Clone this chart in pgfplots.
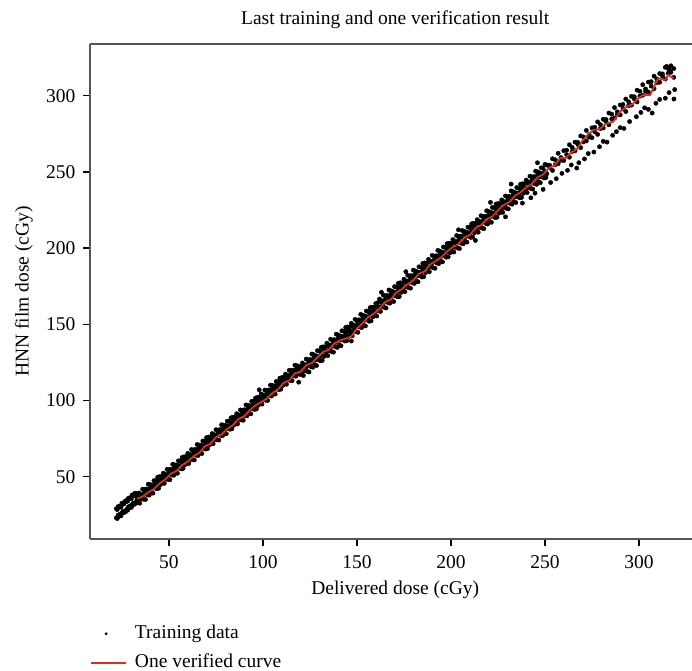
\documentclass[border=0pt]{standalone}
\usepackage{pgfplots}
\pgfplotsset{compat=1.18}
\usepackage{fontspec}
\setmainfont{Liberation Serif}
\definecolor{axgray}{RGB}{85,85,85}
\definecolor{cred}{RGB}{224,46,30}
\pgfplotsset{
  dotlegend/.style={legend image code/.code={\draw[##1, mark size=1.2bp] plot coordinates {(15bp,0bp)}; \path (0bp,0bp) (43bp,0bp);}},
  linelegend/.style={legend image code/.code={\draw[##1] (0bp,0bp) -- (35bp,0bp); \path (43bp,0bp);}},
}
\begin{document}
\begin{tikzpicture}
\begin{axis}[
  scale only axis, width=602bp, height=495bp,
  xmin=8, xmax=328.2, ymin=9.1, ymax=333.9,
  clip mode=individual,
  axis y line*=left,
  axis line style={axgray, line width=1.3bp},
  tick align=outside, tick pos=left,
  major tick length=7bp,
  every tick/.style={black, line width=1.3bp},
  xtick={50,100,...,300}, ytick={50,100,...,300},
  /pgf/number format/assume math mode=true,
  font=\fontsize{19.5bp}{23bp}\selectfont,
  ticklabel style={font=\fontsize{19.5bp}{23bp}\selectfont},
  xticklabel style={yshift=-6bp},
  yticklabel style={xshift=-4bp},
  title={Last training and one verification result},
  title style={at={(axis description cs:0.507,1)}, anchor=base, yshift=13.5bp},
  xlabel={Delivered dose (cGy)},
  xlabel style={at={(axis description cs:0.507,-0.109)}, anchor=base, yshift=-2bp},
  ylabel={HNN film dose (cGy)},
  ylabel style={at={(axis description cs:-0.11,0.5)}, anchor=center},
  legend cell align=left,
  legend style={at={(axis description cs:0,0)}, anchor=north west, yshift=-85bp,
    draw=none, fill=none, inner sep=0pt, row sep=10bp,
    nodes={inner sep=0pt, text height=14bp, text depth=5bp},
    font=\fontsize{19.5bp}{23bp}\selectfont},
]
\addplot[only marks, mark=*, mark size=2.15bp, black, mark options={draw=none, fill=black}, dotlegend]
coordinates {
(22,23.0) (22.5,22.5) (22,29.0) (22.5,28.4)
(23,24.8) (23.5,24.0) (23,30.4) (23.5,29.8)
(24,25.4) (24.5,24.3) (24,30.8) (24.5,30.1)
(25,26.2) (25.5,27.2) (25,32.6) (25.5,32.0)
(26,26.3) (26.5,27.4) (26,32.1) (26.5,33.7)
(27,27.1) (27.5,28.5) (27,33.4) (27.5,34.5)
(28,28.0) (28.5,30.3) (28,33.9) (28.5,35.9)
(29,29.5) (29.5,30.9) (29,35.3) (29.5,36.3)
(30,29.8) (30.5,31.7) (30,35.6) (30.5,38.1)
(31,32.7) (31.5,31.8) (31,37.5) (31.5,37.6)
(32,32.9) (32.5,32.6) (32,39.2) (32.5,38.9)
(33.5,32.9) (33,34.9) (33,37.1) (34.5,32.6) (34,34.9) (34,39.3)
(35.5,35.4) (35,37.6) (35,38.6) (36.5,35.2) (36,37.5) (36,41.8)
(37.5,35.0) (37,39.3) (37,41.5) (38.5,38.1) (38,38.6) (38,41.9)
(39.5,37.9) (39,41.0) (39,45.1) (40.5,39.5) (40,42.9) (40,44.8)
(41.5,39.2) (41,42.2) (41,44.5) (42.5,42.6) (42,44.4) (42,47.4)
(43.5,42.1) (43,44.0) (43,47.3) (44.5,42.4) (44,45.7) (44,49.6)
(45.5,44.8) (45,47.7) (45,50.0)
(46.5,45.9) (46,47.9) (46,50.1) (47.5,45.6) (47,47.9) (47,52.3)
(48.5,48.4) (48,50.6) (48,51.6) (49.5,48.2) (49,50.5) (49,54.8)
(50.5,48.0) (50,52.3) (50,54.5) (51.5,51.1) (51,51.6) (51,54.9)
(52.5,50.9) (52,54.0) (52,58.1) (53.5,52.5) (53,55.9) (53,57.8)
(54.5,52.2) (54,55.2) (54,57.5) (55.5,55.6) (55,57.4) (55,60.4)
(56.5,55.1) (56,57.0) (56,60.3) (57.5,55.4) (57,58.7) (57,62.6)
(58.5,57.8) (58,60.7) (58,63.0)
(59.5,58.9) (59,60.9) (59,63.1) (60.5,58.6) (60,60.9) (60,65.3)
(61.5,61.4) (61,63.6) (61,64.6) (62.5,61.2) (62,63.5) (62,67.8)
(63.5,61.0) (63,65.3) (63,67.5) (64.5,64.1) (64,64.6) (64,67.9)
(65.5,63.9) (65,67.0) (65,71.1) (66.5,65.5) (66,68.9) (66,70.8)
(67.5,65.2) (67,68.2) (67,70.5) (68.5,68.6) (68,70.4) (68,73.4)
(69.5,68.1) (69,70.0) (69,73.3) (70.5,68.4) (70,71.7) (70,75.6)
(71.5,70.8) (71,73.7) (71,76.0)
(72.5,71.9) (72,73.9) (72,76.1) (73.5,71.6) (73,73.9) (73,78.3)
(74.5,74.4) (74,76.6) (74,77.6) (75.5,74.2) (75,76.5) (75,80.8)
(76.5,74.0) (76,78.3) (76,80.5) (77.5,77.1) (77,77.6) (77,80.9)
(78.5,76.9) (78,80.0) (78,84.1) (79.5,78.5) (79,81.9) (79,83.8)
(80.5,78.2) (80,81.2) (80,83.5) (81.5,81.6) (81,83.4) (81,86.4)
(82.5,81.1) (82,83.0) (82,86.3) (83.5,81.4) (83,84.7) (83,88.6)
(84.5,83.8) (84,86.7) (84,89.0)
(85.5,84.9) (85,86.9) (85,89.1) (86.5,84.6) (86,86.9) (86,91.3)
(87.5,87.4) (87,89.6) (87,90.6) (88.5,87.2) (88,89.5) (88,93.8)
(89.5,87.0) (89,91.3) (89,93.5) (90.5,90.1) (90,90.6) (90,93.9)
(91.5,89.9) (91,93.0) (91,97.1) (92.5,91.5) (92,94.9) (92,96.8)
(93.5,91.2) (93,94.2) (93,96.5) (94.5,94.6) (94,96.4) (94,99.4)
(95.5,94.1) (95,96.0) (95,99.3) (96.5,94.4) (96,97.7) (96,101.6)
(97.5,96.8) (97,99.7) (97,102.0)
(98.5,97.9) (98,99.9) (98,102.1) (99.5,97.6) (99,99.9) (99,104.3)
(100.5,100.4) (100,102.6) (100,103.6) (101.5,100.2) (101,102.5) (101,106.8)
(102.5,100.0) (102,104.3) (102,106.5) (103.5,103.1) (103,103.6) (103,106.9)
(104.5,102.9) (104,106.0) (104,110.1) (105.5,104.5) (105,107.9) (105,109.8)
(106.5,104.2) (106,107.2) (106,109.5) (107.5,107.6) (107,109.4) (107,112.4)
(108.5,107.1) (108,109.0) (108,112.3) (109.5,107.4) (109,110.7) (109,114.6)
(110.5,109.8) (110,112.7) (110,115.0)
(111.5,110.9) (111,112.9) (111,115.1) (112.5,110.6) (112,112.9) (112,117.3)
(113.5,113.4) (113,115.6) (113,116.6) (114.5,113.2) (114,115.5) (114,119.8)
(115.5,113.0) (115,117.3) (115,119.5) (116.5,116.1) (116,116.6) (116,119.9)
(117.5,115.9) (117,119.0) (117,123.1) (118.5,117.5) (118,120.9) (118,122.8)
(119.5,117.2) (119,120.2) (119,122.5)
(120.5,117.0) (120,119.5) (120,122.1) (121.5,116.4) (121,119.3) (121,124.6)
(122.5,119.6) (122,122.3) (122,123.5) (123.5,119.1) (123,122.0) (123,127.2)
(124.5,118.7) (124,124.0) (124,126.6) (125.5,122.2) (125,122.9) (125,126.9)
(126.5,121.8) (126,125.6) (126,130.5) (127.5,123.5) (127,127.7) (127,130.0)
(128.5,122.9) (128,126.6) (128,129.4) (129.5,126.8) (129,129.1) (129,132.7)
(130.5,126.0) (130,128.4) (130,132.4) (131.5,126.2) (131,130.2) (131,134.9)
(132.5,128.9) (132,132.4) (132,135.2)
(133.5,130.0) (133,132.5) (133,135.1) (134.5,129.4) (134,132.3) (134,137.6)
(135.5,132.6) (135,135.3) (135,136.5) (136.5,132.1) (136,135.0) (136,140.2)
(137.5,131.7) (137,137.0) (137,139.6) (138.5,135.2) (138,135.9) (138,139.9)
(139.5,134.8) (139,138.6) (139,143.5) (140.5,136.5) (140,140.7) (140,143.0)
(141.5,135.9) (141,139.6) (141,142.4) (142.5,139.8) (142,142.1) (142,145.7)
(143.5,139.0) (143,141.4) (143,145.4) (144.5,139.2) (144,143.2) (144,147.9)
(145.5,141.9) (145,145.4) (145,148.2)
(146.5,143.0) (146,145.5) (146,148.1) (147.5,142.4) (147,145.3) (147,150.6)
(148.5,145.6) (148,148.3) (148,149.5) (149.5,145.1) (149,148.0) (149,153.2)
(150.5,144.7) (150,150.0) (150,152.6) (151.5,148.2) (151,148.9) (151,152.9)
(152.5,147.8) (152,151.6) (152,156.5) (153.5,149.5) (153,153.7) (153,156.0)
(154.5,148.9) (154,152.6) (154,155.4) (155.5,152.8) (155,155.1) (155,158.7)
(156.5,152.0) (156,154.4) (156,158.4) (157.5,152.2) (157,156.2) (157,160.9)
(158.5,154.9) (158,158.4) (158,161.2)
(159.5,156.0) (159,158.5) (159,161.1) (160.5,155.4) (160,158.3) (160,163.6)
(161.5,159.0) (161,161.5) (161,164.1) (162.5,158.4) (162,161.3) (162,166.6)
(163.5,161.6) (163,164.3) (163,165.5) (164.5,161.1) (164,164.0) (164,169.2)
(165.5,160.7) (165,166.0) (165,168.6) (166.5,164.2) (166,164.9) (166,168.9)
(167.5,163.8) (167,167.6) (167,172.5) (168.5,165.5) (168,169.7) (168,172.0)
(169.5,164.9) (169,168.6) (169,171.4) (170.5,168.8) (170,171.1) (170,174.7)
(171.5,168.0) (171,170.4) (171,174.4) (172.5,168.2) (172,172.2) (172,176.9)
(173.5,170.9) (173,174.4) (173,177.2)
(174.5,172.0) (174,174.5) (174,177.1) (175.5,171.4) (175,174.3) (175,179.6)
(176.5,174.6) (176,177.3) (176,178.5) (177.5,174.1) (177,177.0) (177,182.2)
(178.5,173.7) (178,179.0) (178,181.6) (179.5,177.2) (179,177.9) (179,181.9)
(180.5,176.8) (180,180.6) (180,185.5) (181.5,178.5) (181,182.7) (181,185.0)
(182.5,177.9) (182,181.6) (182,184.4) (183.5,181.8) (183,184.1) (183,187.7)
(184.5,181.0) (184,183.4) (184,187.4) (185.5,181.2) (185,185.2) (185,189.9)
(186.5,183.9) (186,187.4) (186,190.2)
(187.5,185.0) (187,187.5) (187,190.1) (188.5,184.4) (188,187.3) (188,192.6)
(189.5,187.6) (189,190.3) (189,191.5) (190.5,187.1) (190,190.0) (190,195.2)
(191.5,186.7) (191,192.0) (191,194.6) (192.5,190.2) (192,190.9) (192,194.9)
(193.5,189.8) (193,193.6) (193,198.5) (194.5,191.5) (194,195.7) (194,198.0)
(195.5,190.9) (195,194.6) (195,197.4) (196.5,194.8) (196,197.1) (196,200.7)
(197.5,194.0) (197,196.4) (197,200.4) (198.5,194.2) (198,198.2) (198,202.9)
(199.5,196.9) (199,200.4) (199,203.2)
(200.5,198.0) (200,200.5) (200,203.1) (201.5,197.4) (201,200.3) (201,205.6)
(202.5,200.6) (202,203.3) (202,204.5) (203.5,200.1) (203,203.0) (203,208.2)
(204.5,199.7) (204,205.0) (204,207.6) (205.5,203.2) (205,203.9) (205,207.9)
(206.5,202.8) (206,206.6) (206,211.5) (207.5,204.5) (207,208.7) (207,211.0)
(208.5,203.9) (208,207.6) (208,210.4) (209.5,207.8) (209,210.1) (209,213.7)
(210.5,207.0) (210,209.4) (210,213.4) (211.5,207.2) (211,211.2) (211,215.9)
(212.5,209.9) (212,213.4) (212,216.2)
(213.5,211.0) (213,213.5) (213,216.1) (214.5,210.4) (214,213.3) (214,218.6)
(215.5,213.6) (215,216.3) (215,217.5) (216.5,213.1) (216,216.0) (216,221.2)
(217.5,212.7) (217,218.0) (217,220.6) (218.5,216.2) (218,216.9) (218,220.9)
(219.5,215.8) (219,219.6) (219,224.5) (220.5,217.5) (220,221.7) (220,224.0)
(221.5,216.9) (221,220.6) (221,223.4) (222.5,220.8) (222,223.1) (222,226.7)
(223.5,220.0) (223,222.4) (223,226.4) (224.5,220.2) (224,224.2) (224,228.9)
(225.5,222.9) (225,226.4) (225,229.2)
(226.5,224.0) (226,226.5) (226,229.1) (227.5,223.4) (227,226.3) (227,231.6)
(228.5,226.6) (228,229.3) (228,230.5) (229.5,226.1) (229,229.0) (229,234.2)
(230.5,225.7) (230,231.0) (230,233.6) (231.5,229.2) (231,229.9) (231,233.9)
(232.5,228.8) (232,232.6) (232,237.5) (233.5,230.5) (233,234.7) (233,237.0)
(234.5,229.9) (234,233.6) (234,236.4) (235.5,233.8) (235,236.1) (235,239.7)
(236.5,233.0) (236,235.4) (236,239.4) (237.5,233.2) (237,237.2) (237,241.9)
(238.5,235.9) (238,239.4) (238,242.2)
(239.5,237.0) (239,239.5) (239,242.1) (240.5,236.4) (240,239.3) (240,244.6)
(241.5,239.6) (241,242.3) (241,243.5) (242.5,239.1) (242,242.0) (242,247.2)
(243.5,238.7) (243,244.0) (243,246.6) (244.5,242.2) (244,242.9) (244,246.9)
(245.5,241.8) (245,245.6) (245,250.5) (246.5,243.5) (246,247.7) (246,250.0)
(247.5,242.9) (247,246.6) (247,249.4) (248.5,246.8) (248,249.1) (248,252.7)
(249.5,246.0) (249,248.4) (249,252.4) (250.5,246.2) (250,250.2) (250,254.9)
(251,254.5) (251,248.8) (252.5,254.3) (252.5,252.9) (254,258.6) (254,250.9)
(255.5,257.9) (255.5,254.7) (257,262.2) (257,255.3) (258.5,259.4) (258.5,257.6)
(260,263.9) (260,257.4) (261.5,264.2) (261.5,261.3) (263,267.8) (263,259.6)
(264.5,266.0) (264.5,263.4) (266,269.5) (266,263.8) (267.5,269.3) (267.5,267.9)
(269,273.6) (269,265.9) (270.5,272.9) (270.5,269.7) (272,277.2) (272,270.3)
(273.5,274.4) (273.5,272.8) (275,278.9) (275,272.4) (276.5,279.2) (276.5,276.3)
(278,282.8) (278,274.6) (279.5,281.0) (279.5,278.4) (281,284.5) (281,278.8)
(282.5,284.3) (282.5,282.9) (284,288.6) (284,280.9) (285.5,287.9) (285.5,284.7)
(287,292.2) (287,285.3) (288.5,289.4) (288.5,287.6) (290,293.9) (290,287.4)
(291.5,294.2) (291.5,291.3) (293,297.8) (293,289.6) (294.5,296.0) (294.5,293.4)
(296,299.5) (296,293.8) (297.5,299.3) (297.5,297.9) (299,303.6) (299,295.9)
(300.5,302.9) (300.5,299.7) (302,307.2) (302,300.3) (303.5,304.4) (303.5,302.8)
(305,308.9) (305,302.4) (306.5,309.2) (306.5,306.3) (308,312.8) (308,304.6)
(309.5,311.0) (309.5,308.4) (311,314.5) (311,308.8) (312.5,314.3) (312.5,312.9)
(314,318.6) (314,310.9) (315.5,317.9) (315.5,314.7) (317,319.6) (317,315.3)
(318.5,317.8) (318.5,312.0) (314.7,319.2) (316.2,316.8)
(238,229.5) (242.5,233.0) (244.7,236.0) (249,238.5) (253,243.0) (256,245.5)
(259,249.0) (262,251.0) (264,254.5) (266.9,252.5) (268,256.0) (271,258.5)
(273,262.0) (276,263.0) (279,266.5) (281,270.0) (283,269.5) (286,274.0)
(288,276.4) (290,279.0) (292,278.5) (295,283.0) (298.6,286.2) (301,289.0)
(303,292.0) (305,291.0) (307,288.6) (309,295.0) (311,297.5) (314,298.3)
(316,302.0) (318.6,297.8) (319,304.0)
(176,184.5) (204,212.0) (213,205.0) (221,230.0) (229,220.5) (163,171.0)
(147,139.0) (98,107.0) (119,112.0) (232,242.0) (246,256.0)
};
\addlegendentry{Training data}
\addplot[cred, line width=1.8bp, no marks, linelegend]
coordinates {
(33,35.5) (36,37.0) (39,39.8) (42,41.9) (45,45.6) (48,48.2) (51,51.9) (54,53.8)
(57,57.6) (60,59.9) (63,63.4) (66,65.5) (69,69.8) (72,71.6) (75,75.9) (78,77.8)
(81,81.3) (84,83.9) (87,87.8) (90,89.7) (93,93.5) (96,96.8) (99,98.9) (102,101.2)
(105,104.8) (108,107.3) (111,111.6) (114,113.2) (117,117.8) (120,118.9) (123,123.1)
(126,124.6) (129,128.2) (132,131.9) (135,133.2) (138,137.5) (141,139.4) (144,140.6)
(147,142.0) (150,147.2) (153,150.6) (156,154.8) (159,156.9) (162,160.3) (165,164.7)
(168,166.2) (171,171.0) (174,173.1) (177,176.4) (180,178.9) (183,183.2) (186,184.7)
(189,189.3) (192,191.6) (195,194.1) (198,197.9) (201,200.6) (204,202.8) (207,206.9)
(210,208.6) (213,213.0) (216,215.1) (219,218.9) (222,220.7) (225,224.8) (228,228.2)
(231,230.1) (234,234.3) (237,236.6) (240,239.8) (243,242.1) (246,246.4) (249,248.3)
(252,252.5) (255,254.0) (258,258.9) (261,259.2) (264,262.8) (267,265.0) (270,270.5)
(273,274.6) (275.7,277.5) (279,278.0) (282.5,281.6) (286.3,282.9) (289.9,289.5)
(293.4,292.8) (296.5,294.3) (299,297.8) (302.3,300.5) (305.9,300.5) (308,305.8)
(310.3,311.4) (313.8,310.3) (315.6,313.6) (318.3,311.4)
};
\addlegendentry{One verified curve}
\end{axis}
\pgfresetboundingbox
\useasboundingbox (-90bp,-132bp) rectangle (602bp,539bp);
\end{tikzpicture}
\end{document}
